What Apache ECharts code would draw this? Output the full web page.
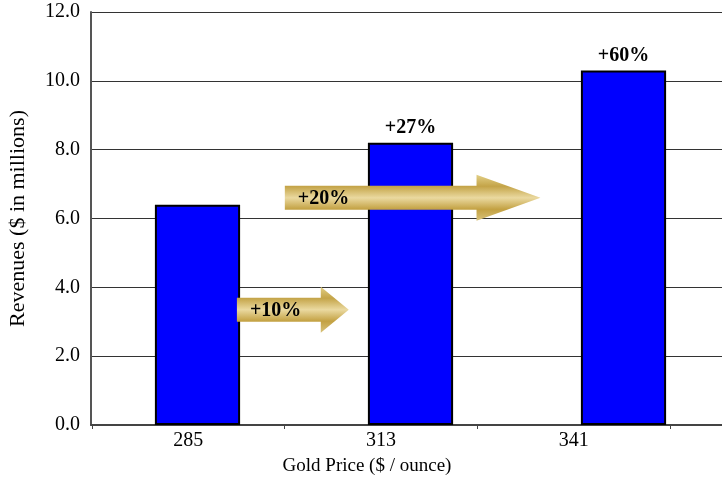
<!DOCTYPE html>
<html>
<head>
<meta charset="utf-8">
<script src="https://cdn.jsdelivr.net/npm/echarts@6/dist/echarts.min.js"></script>
<style>
html,body{margin:0;padding:0;background:#fff;}
#chart{width:722px;height:481px;}
</style>
</head>
<body>
<div id="chart"></div>
<script>
// ---- data ----
var categories = ['285', '313', '341'];
var revenues = [6.4, 8.2, 10.3];
var barLabels = ['', '+27%', '+60%'];
var yTicks = [0, 2, 4, 6, 8, 10, 12];
// arrows: start / end in category-index units, level in revenue units
var arrowStart = [0.185, 0.41];
var arrowEnd = [0.71, 1.61];
var arrowLevel = [3.35, 6.6];
var arrowLabels = ['+10%', '+20%'];

var FONT = '"Liberation Serif", "Times New Roman", serif';

var arrowData = arrowStart.map(function (s, i) {
  return [s, arrowEnd[i], arrowLevel[i], arrowLabels[i]];
});

var chart = echarts.init(document.getElementById('chart'));

function renderArrow(params, api) {
  var s = api.coord([api.value(0), api.value(2)]);
  var e = api.coord([api.value(1), api.value(2)]);
  var x0 = s[0], x1 = e[0], y = s[1];
  var bh = 12, hh = 23;
  var hx = x1 - (x1 - x0) * 0.25;
  var label = arrowData[params.dataIndex][3];
  return {
    type: 'group',
    children: [{
      type: 'polygon',
      shape: {
        points: [[x0, y - bh], [hx, y - bh], [hx, y - hh], [x1, y], [hx, y + hh], [hx, y + bh], [x0, y + bh]]
      },
      style: {
        fill: new echarts.graphic.LinearGradient(0, 0, 0, 1, [
          { offset: 0, color: '#e2cf86' },
          { offset: 0.25, color: '#c4a448' },
          { offset: 0.5, color: '#ead9a0' },
          { offset: 0.75, color: '#c3a142' },
          { offset: 1, color: '#d8c27a' }
        ])
      }
    }, {
      type: 'text',
      style: {
        x: x0 + 13,
        y: y + 1,
        text: label,
        fill: '#000',
        font: 'bold 20px ' + FONT,
        verticalAlign: 'middle',
        align: 'left'
      }
    }]
  };
}

var option = {
  backgroundColor: '#fff',
  animation: false,
  grid: [
    { left: 91, top: 12, bottom: 56, width: 639, outerBoundsMode: 'none', containLabel: false },
    { left: 92, top: 12, bottom: 56, width: 578, outerBoundsMode: 'none', containLabel: false }
  ],
  xAxis: [{
    type: 'category',
    gridIndex: 0,
    data: categories,
    axisLine: { show: true, onZero: false, lineStyle: { color: '#444', width: 2 } },
    axisTick: { show: false },
    axisLabel: { show: false },
    splitLine: { show: false }
  }, {
    type: 'category',
    gridIndex: 1,
    data: categories,
    axisLine: { show: false },
    axisTick: { show: true, length: 4, lineStyle: { color: '#444' } },
    axisLabel: { color: '#000', fontFamily: FONT, fontSize: 20, margin: 6 },
    name: 'Gold Price ($ / ounce)',
    nameLocation: 'middle',
    nameGap: 32,
    nameTextStyle: { color: '#000', fontFamily: FONT, fontSize: 19, padding: [0, 28, 0, 0] }
  }, {
    type: 'value',
    gridIndex: 0,
    min: -0.5,
    max: 2.5,
    show: false
  }],
  yAxis: [{
    type: 'value',
    gridIndex: 0,
    min: yTicks[0],
    max: yTicks[yTicks.length - 1],
    interval: yTicks[1] - yTicks[0],
    axisLine: { show: true, onZero: false, lineStyle: { color: '#555', width: 2 } },
    axisTick: { show: false },
    axisLabel: {
      color: '#000', fontFamily: FONT, fontSize: 20, margin: 11,
      formatter: function (v) { return v.toFixed(1); }
    },
    splitLine: { show: true, lineStyle: { color: '#333', width: 1 } },
    name: 'Revenues ($ in millions)',
    nameLocation: 'middle',
    nameGap: 62,
    nameTextStyle: { color: '#000', fontFamily: FONT, fontSize: 22 }
  }, {
    type: 'value',
    gridIndex: 1,
    min: 0,
    max: 12,
    show: false
  }],
  series: [{
    type: 'bar',
    xAxisIndex: 0,
    yAxisIndex: 0,
    data: revenues.map(function (v, i) {
      return { value: v, label: { show: barLabels[i] !== '', formatter: barLabels[i] } };
    }),
    barWidth: '40%',
    itemStyle: { color: '#0000ff', borderColor: '#000', borderWidth: 2 },
    label: {
      position: 'top',
      distance: 5,
      color: '#000',
      fontFamily: FONT,
      fontWeight: 'bold',
      fontSize: 20
    },
    z: 2
  }, {
    type: 'custom',
    xAxisIndex: 2,
    yAxisIndex: 0,
    data: arrowData,
    renderItem: renderArrow,
    z: 5
  }]
};
chart.setOption(option);
</script>
</body>
</html>
